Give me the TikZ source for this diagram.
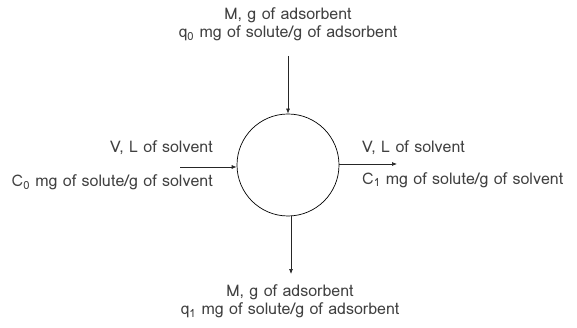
\documentclass[tikz,border=0pt]{standalone}
\usepackage{fontspec}
\setmainfont{Loma}
\usepackage{tikz}
\usetikzlibrary{arrows.meta}
\definecolor{txtgray}{RGB}{64,64,64}

\begin{document}
\begin{tikzpicture}[x=1pt, y=-1pt,
  arr/.style={-{Latex[length=5pt,width=4pt]}, line width=0.7pt, black!85},
  lbl/.style={font=\fontsize{16}{18}\selectfont, color=txtgray, inner sep=0pt},
  vessel/.style={circle, draw, line width=0.7pt, minimum size=102pt, inner sep=0pt}
]
\useasboundingbox (0,0) rectangle (577,328);

\node[vessel] (tank) at (288,165) {};

% feed and product streams
\coordinate (topin)  at (288,56);
\coordinate (leftin) at (180,167);
\coordinate (rightout) at (397,164);
\coordinate (botout) at (291,274);

\draw[arr] (topin) -- (tank.north);
\draw[arr] (leftin) -- (leftin -| tank.west);
\draw[arr] (rightout -| tank.east) -- (rightout);
\draw[arr] (tank.south -| botout) -- (botout);

% labels
\node[lbl] (topa) at (288,15) {M, g of adsorbent};
\node[lbl] (topb) at (288,33.5) {q\textsubscript{0} mg of solute/g of adsorbent};
\node[lbl, anchor=east] (lefta) at (213,148) {V, L of solvent};
\node[lbl, anchor=east] (leftb) at (213,182.5) {C\textsubscript{0} mg of solute/g of solvent};
\node[lbl, anchor=west] (righta) at (362,148) {V, L of solvent};
\node[lbl, anchor=west] (rightb) at (362,180) {C\textsubscript{1} mg of solute/g of solvent};
\node[lbl] (bota) at (290,292) {M, g of adsorbent};
\node[lbl] (botb) at (290,310.5) {q\textsubscript{1} mg of solute/g of adsorbent};
\end{tikzpicture}
\end{document}
